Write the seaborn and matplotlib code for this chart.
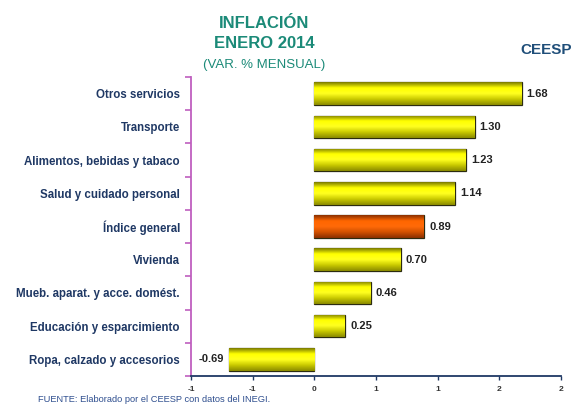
import numpy as np
import pandas as pd
import matplotlib
matplotlib.use("Agg")
import matplotlib.pyplot as plt
from matplotlib.colors import LinearSegmentedColormap
import seaborn as sns

sns.set_theme(style="white")
plt.rcParams['font.family'] = ['Liberation Sans', 'DejaVu Sans']

# Datos del gráfico
categorias = ["Otros servicios", "Transporte", "Alimentos, bebidas y tabaco",
              "Salud y cuidado personal", "Índice general", "Vivienda",
              "Mueb. aparat. y acce. domést.", "Educación y esparcimiento",
              "Ropa, calzado y accesorios"]
valores = [1.68, 1.30, 1.23, 1.14, 0.89, 0.70, 0.46, 0.25, -0.69]
ticks_x = [-1, -0.5, 0, 0.5, 1, 1.5, 2]
etiquetas_x = ["-1", "-1", "0", "1", "1", "2", "2"]

df = pd.DataFrame({"categoria": categorias, "valor": valores})

azul = "#1F3864"
verde = "#1B8A78"
morado = "#BF5FBF"

fig = plt.figure(figsize=(5.76, 4.05), dpi=100)
ax = fig.add_axes([191 / 576, 1 - 376 / 405, 370 / 576, 299 / 405])

colores = ["#FF6600" if c == "Índice general" else "#FFFF00" for c in categorias]
sns.barplot(data=df, x="valor", y="categoria", hue="categoria", palette=colores,
            legend=False, orient="h", width=0.68, ax=ax,
            edgecolor="#2b2b10", linewidth=0.9)

# Degradado tipo cilindro en cada barra
cmap_am = LinearSegmentedColormap.from_list("am", ["#7a7a00", "#FFFF00", "#FFFF20", "#c8c800", "#8a8a00"])
cmap_na = LinearSegmentedColormap.from_list("na", ["#8a3000", "#FF6600", "#FF6a08", "#d05000", "#8a3000"])
grad = np.linspace(0, 1, 64).reshape(-1, 1)
for patch, cat in zip(ax.patches, categorias):
    x0, y0 = patch.get_x(), patch.get_y()
    w, h = patch.get_width(), patch.get_height()
    cm = cmap_na if cat == "Índice general" else cmap_am
    im = ax.imshow(grad, cmap=cm, aspect="auto", zorder=patch.get_zorder() + 0.1,
                   extent=[x0, x0 + w, y0 + h, y0], interpolation="bilinear")
    im.set_clip_path(patch)

ax.set_xlim(-1, 2)
ax.set_ylim(len(categorias) - 0.5, -0.5)

# Etiquetas de valor
for i, v in enumerate(valores):
    if v >= 0:
        ax.text(v + 0.04, i, f"{v:.2f}", va="center", ha="left",
                fontsize=8, fontweight="bold", color="#222222")
    else:
        ax.text(v - 0.04, i, f"{v:.2f}", va="center", ha="right",
                fontsize=8, fontweight="bold", color="#222222")

ax.tick_params(axis="y", which="major", left=False, length=0, pad=8, labelsize=8.3)
ax.tick_params(axis="y", which="minor", left=True, length=4, color=morado, width=1.2,
               direction="out")
ax.tick_params(axis="x", bottom=True, length=3, color=azul, width=1, direction="out",
               pad=4, labelsize=6)
ax.set_xticks(ticks_x)
ax.set_xticklabels(etiquetas_x, fontweight="bold", color="#333333")
ax.set_yticks(range(len(categorias)))
ax.set_yticklabels(categorias, fontweight="bold", color=azul)
ax.set_yticks(np.arange(-0.5, len(categorias), 1), minor=True)
ax.set_xlabel("")
ax.set_ylabel("")

for s in ["top", "right"]:
    ax.spines[s].set_visible(False)
ax.spines["left"].set_color(morado)
ax.spines["left"].set_linewidth(1.3)
ax.spines["bottom"].set_color(azul)
ax.spines["bottom"].set_linewidth(1.3)

# Títulos
cx = 264 / 576
fig.text(cx, 1 - 23 / 405, "INFLACIÓN", ha="center", va="center",
         fontsize=12, fontweight="bold", color=verde)
fig.text(cx, 1 - 44 / 405, "ENERO 2014", ha="center", va="center",
         fontsize=12, fontweight="bold", color=verde)
fig.text(cx, 1 - 65 / 405, "(VAR. % MENSUAL)", ha="center", va="center",
         fontsize=9.5, color=verde)
fig.text(546 / 576, 1 - 50 / 405, "CEESP", ha="center", va="center",
         fontsize=11, fontweight="bold", color="#1F4E79")
fig.text(38 / 576, 1 - 399 / 405, "FUENTE: Elaborado por el CEESP con datos del INEGI.",
         ha="left", va="center", fontsize=6.7, color="#2F4F8F")

fig.savefig("out.png", dpi=100)
